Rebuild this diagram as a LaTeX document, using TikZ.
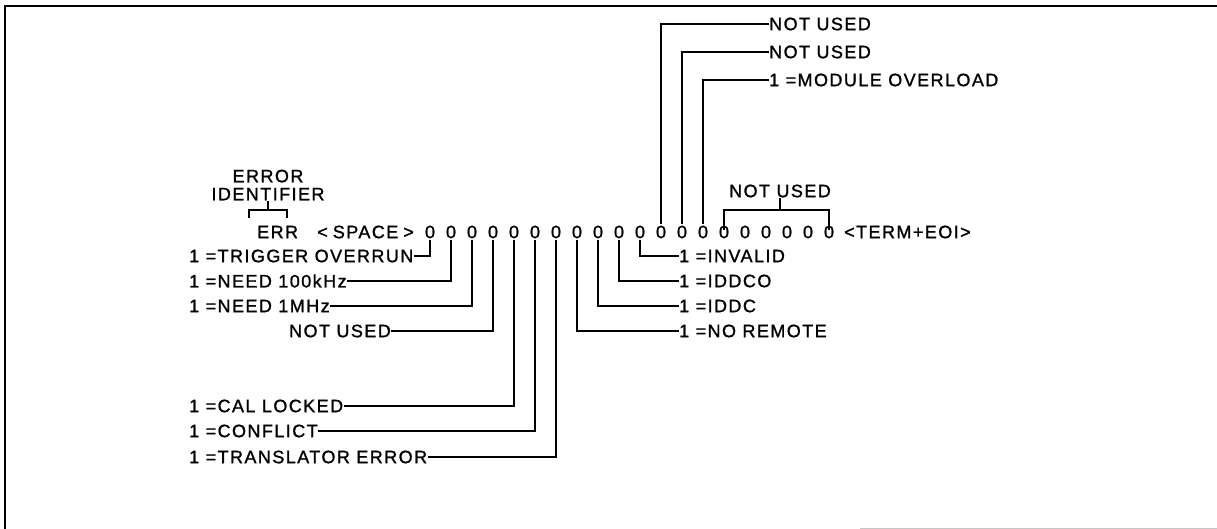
\documentclass[tikz,border=0pt]{standalone}
\usepackage{fontspec}
\newfontfamily\labfont[LetterSpace=8,FakeBold=1.2]{Liberation Sans}
\begin{document}
\begin{tikzpicture}[
    x=1pt, y=-1pt,
    lbl/.style={inner sep=1pt, font=\labfont\fontsize{18}{15}\selectfont},
    bit/.style={lbl, inner sep=2pt},
    lead/.style={line width=1.5pt, line cap=rect},
    frame/.style={line width=1.6pt}
]
    \useasboundingbox (0,0) rectangle (1217,529);

    % Rahmen
    \draw[frame] (5,529) -- (5,6) -- (1217,6);
    \draw[line width=1pt, gray!45] (860,528) -- (1217,528);

    % Kopfzeile
    \node[lbl, anchor=west] (err) at (256,232) {ERR};
    \node[lbl, anchor=east] (space) at (415,232) {<\;SPACE\;>};
    \foreach \i in {1,...,20}
        \node[bit] (b\i) at ({430+21*(\i-1)},232) {0};
    \node[lbl, anchor=west] (term) at (843,232) {<TERM+EOI>};

    % Kennung
    \node[lbl, align=center, font=\labfont\fontsize{18}{18}\selectfont]
        (errid) at (268,185) {ERROR\\IDENTIFIER};
    \draw[lead] (249,217) -- (249,210) -- (287,210) -- (287,217);
    \draw[lead] (errid.south) -- (errid.south |- 0,210);

    % freie Bits rechts
    \node[lbl] (nufree) at (780,191) {NOT USED};
    \draw[lead] ([yshift=-6pt]b15.north) |- (nufree.south |- 0,210) -| ([yshift=-6pt]b20.north);
    \draw[lead] (nufree.south) -- (nufree.south |- 0,210);

    % Bits nach oben
    \node[lbl, anchor=west] (nu1) at (768,24) {NOT USED};
    \node[lbl, anchor=west] (nu2) at (768,52) {NOT USED};
    \node[lbl, anchor=west] (ovl) at (768,80) {1 =MODULE OVERLOAD};
    \draw[lead] (b12.north) |- (nu1.west);
    \draw[lead] (b13.north) |- (nu2.west);
    \draw[lead] (b14.north) |- (ovl.west);

    % Bits nach links
    \node[lbl, anchor=west] (trig) at (188,256) {1 =TRIGGER OVERRUN};
    \node[lbl, anchor=west] (k100) at (188,281) {1 =NEED 100kHz};
    \node[lbl, anchor=west] (m1) at (188,306) {1 =NEED 1MHz};
    \node[lbl, anchor=east] (nu4) at (392,331) {NOT USED};
    \node[lbl, anchor=west] (cal) at (188,406) {1 =CAL LOCKED};
    \node[lbl, anchor=west] (conf) at (188,431) {1 =CONFLICT};
    \node[lbl, anchor=west] (trans) at (188,457) {1 =TRANSLATOR ERROR};
    \draw[lead] (b1.south) |- (trig.east);
    \draw[lead] (b2.south) |- (k100.east);
    \draw[lead] (b3.south) |- (m1.east);
    \draw[lead] (b4.south) |- (nu4.east);
    \draw[lead] (b5.south) |- (cal.east);
    \draw[lead] (b6.south) |- (conf.east);
    \draw[lead] (b7.south) |- (trans.east);

    % Bits nach rechts
    \node[lbl, anchor=west] (inv) at (678,256) {1 =INVALID};
    \node[lbl, anchor=west] (iddco) at (678,281) {1 =IDDCO};
    \node[lbl, anchor=west] (iddc) at (678,306) {1 =IDDC};
    \node[lbl, anchor=west] (norem) at (678,331) {1 =NO REMOTE};
    \draw[lead] (b8.south) |- (norem.west);
    \draw[lead] (b9.south) |- (iddc.west);
    \draw[lead] (b10.south) |- (iddco.west);
    \draw[lead] (b11.south) |- (inv.west);
\end{tikzpicture}
\end{document}
